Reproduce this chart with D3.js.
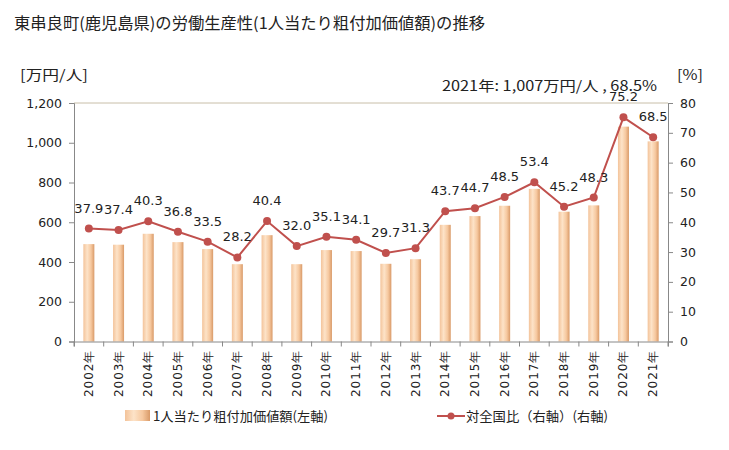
<!DOCTYPE html>
<html><head><meta charset="utf-8">
<script src="https://d3js.org/d3.v7.min.js"></script>
<style>body{margin:0;background:#fff;}svg{display:block;}</style>
</head><body>
<script>
const years = ["2002年","2003年","2004年","2005年","2006年","2007年","2008年","2009年","2010年","2011年","2012年","2013年","2014年","2015年","2016年","2017年","2018年","2019年","2020年","2021年"];
const productivity = [490,487,542,500,465,389,535,389,460,455,391,414,587,631,683,768,653,685,1081,1007];
const ratio = [37.9,37.4,40.3,36.8,33.5,28.2,40.4,32.0,35.1,34.1,29.7,31.3,43.7,44.7,48.5,53.4,45.2,48.3,75.2,68.5];
const leftTicks = [0,200,400,600,800,1000,1200];
const rightTicks = [0,10,20,30,40,50,60,70,80];

const W=729,H=450;
const m={l:74,r:668,t:103,b:341.5};
const svg=d3.select("body").append("svg").attr("width",W).attr("height",H);
const jp="'Noto Sans CJK JP','Noto Sans',sans-serif";
const num="'DejaVu Sans',Verdana,sans-serif";

const defs=svg.append("defs");
const g=defs.append("linearGradient").attr("id","bg").attr("x1","0").attr("x2","1").attr("y1","0").attr("y2","0");
g.append("stop").attr("offset","0").attr("stop-color","#f3c39a");
g.append("stop").attr("offset","0.35").attr("stop-color","#fde3c8");
g.append("stop").attr("offset","0.7").attr("stop-color","#f6c89f");
g.append("stop").attr("offset","1").attr("stop-color","#d99a68");

const xs=d3.scaleBand().domain(years).range([m.l,m.r]);
const yL=d3.scaleLinear().domain([0,1200]).range([m.b,m.t]);
const yR=d3.scaleLinear().domain([0,80]).range([m.b,m.t]);

svg.append("text").attr("x",14).attr("y",29).attr("font-family",jp).attr("font-size",16).attr("fill","#222")
  .attr("textLength",471).attr("lengthAdjust","spacingAndGlyphs")
  .text("東串良町(鹿児島県)の労働生産性(1人当たり粗付加価値額)の推移");

// bars
svg.append("g").selectAll("rect").data(productivity).join("rect")
  .attr("x",(d,i)=>xs(years[i])+xs.bandwidth()/2-5.5).attr("width",11)
  .attr("y",d=>yL(d)).attr("height",d=>m.b-yL(d)).attr("fill","url(#bg)");

// top border
svg.append("line").attr("x1",m.l).attr("x2",m.r).attr("y1",m.t).attr("y2",m.t).attr("stroke","#c8bea8");

// axes
const ax=svg.append("g").attr("transform",`translate(${m.l},0)`).call(d3.axisLeft(yL).tickValues(leftTicks).tickSize(5).tickFormat(d3.format(",")));
const ar=svg.append("g").attr("transform",`translate(${m.r},0)`).call(d3.axisRight(yR).tickValues(rightTicks).tickSize(5));
const axb=svg.append("g").attr("transform",`translate(0,${m.b})`).call(d3.axisBottom(xs).tickSize(5).tickFormat(""));
axb.selectAll(".tick line").attr("transform",`translate(${-xs.bandwidth()/2},0)`);
axb.append("line").attr("x1",m.r).attr("x2",m.r).attr("y1",0).attr("y2",5).attr("stroke","#888");
[ax,ar,axb].forEach(a=>{a.selectAll("path,line").attr("stroke","#888");a.selectAll("text").attr("font-family",num).attr("font-size",12.5).attr("fill","#222");});
ax.selectAll("text").attr("dx",-4);
ar.selectAll("text").attr("dx",4);

// x labels rotated
svg.append("g").selectAll("text").data(years).join("text")
  .attr("transform",d=>`translate(${xs(d)+xs.bandwidth()/2+4},${m.b+8}) rotate(-90)`)
  .attr("text-anchor","end").attr("font-family",num).attr("font-size",12).attr("fill","#222")
  .attr("letter-spacing",1)
  .text(d=>d);

// line
const cx=i=>xs(years[i])+xs.bandwidth()/2;
svg.append("path").datum(ratio).attr("fill","none").attr("stroke","#c0504d").attr("stroke-width",2)
  .attr("d",d3.line().x((d,i)=>cx(i)).y(d=>yR(d)));
svg.append("g").selectAll("circle").data(ratio).join("circle")
  .attr("cx",(d,i)=>cx(i)).attr("cy",d=>yR(d)).attr("r",4).attr("fill","#c0504d");
svg.append("g").selectAll("text").data(ratio).join("text")
  .attr("x",(d,i)=>cx(i)).attr("y",d=>yR(d)-16).attr("text-anchor","middle")
  .attr("font-family",num).attr("font-size",13).attr("fill","#222").text(d=>d.toFixed(1));

// axis titles
svg.append("text").attr("x",20).attr("y",80).attr("font-family",jp).attr("font-size",14).attr("fill","#222")
  .attr("textLength",68).attr("lengthAdjust","spacingAndGlyphs").text("[万円/人]");
svg.append("text").attr("x",677).attr("y",80).attr("font-family",jp).attr("font-size",14).attr("fill","#222")
  .attr("textLength",26).attr("lengthAdjust","spacingAndGlyphs").text("[%]");
svg.append("text").attr("x",442).attr("y",91).attr("font-family",jp).attr("font-size",14).attr("fill","#222")
  .attr("textLength",215).attr("lengthAdjust","spacingAndGlyphs").text("2021年: 1,007万円/人 , 68.5%");

// legend
svg.append("rect").attr("x",125).attr("y",410).attr("width",25).attr("height",11).attr("fill","url(#bg)");
svg.append("text").attr("x",153).attr("y",421).attr("font-family",jp).attr("font-size",13).attr("fill","#222")
  .attr("textLength",175).attr("lengthAdjust","spacingAndGlyphs").text("1人当たり粗付加価値額(左軸)");
svg.append("line").attr("x1",437).attr("x2",465).attr("y1",416).attr("y2",416).attr("stroke","#c0504d").attr("stroke-width",2);
svg.append("circle").attr("cx",451).attr("cy",416).attr("r",3.5).attr("fill","#c0504d");
svg.append("text").attr("x",466).attr("y",421).attr("font-family",jp).attr("font-size",13).attr("fill","#222")
  .attr("textLength",142).attr("lengthAdjust","spacingAndGlyphs").text("対全国比（右軸）(右軸)");
</script>
</body></html>
